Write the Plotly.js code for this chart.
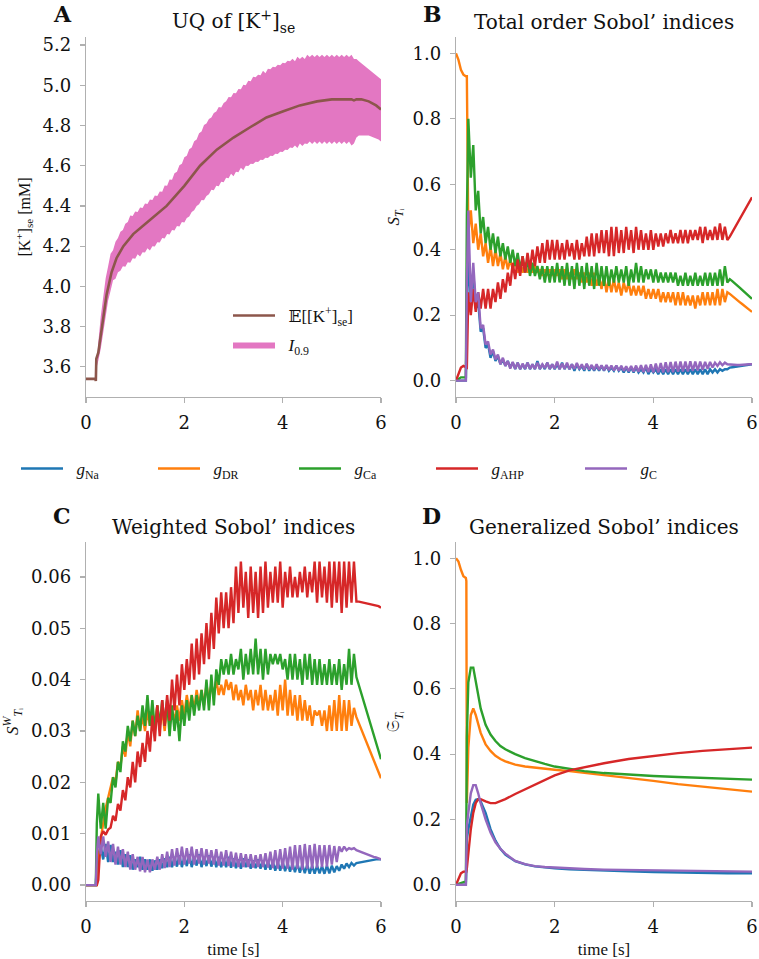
<!DOCTYPE html>
<html><head><meta charset="utf-8">
<script src="https://cdn.plot.ly/plotly-3.0.1.min.js"></script>
<style>html,body{margin:0;padding:0;background:#fff}#chart{width:759px;height:959px}</style>
</head><body><div id="chart"></div>
<script>
// ---------- shared time grid for the noisy panels (s) ----------
const T = [0,0.05,0.1,0.15,0.2,0.22,0.25,0.3,0.35,0.4,0.45,0.5,0.55,0.6,0.65,0.7,0.75,0.8,0.85,0.9,0.95,
1,1.05,1.1,1.15,1.2,1.25,1.3,1.35,1.4,1.45,1.5,1.55,1.6,1.65,1.7,1.75,1.8,1.85,1.9,1.95,
2,2.05,2.1,2.15,2.2,2.25,2.3,2.35,2.4,2.45,2.5,2.55,2.6,2.65,2.7,2.75,2.8,2.85,2.9,2.95,
3,3.05,3.1,3.15,3.2,3.25,3.3,3.35,3.4,3.45,3.5,3.55,3.6,3.65,3.7,3.75,3.8,3.85,3.9,3.95,
4,4.05,4.1,4.15,4.2,4.25,4.3,4.35,4.4,4.45,4.5,4.55,4.6,4.65,4.7,4.75,4.8,4.85,4.9,4.95,
5,5.05,5.1,5.15,5.2,5.25,5.3,5.35,5.4,5.45,5.5,5.55,5.6,5.65,5.7,5.75,5.8,5.85,5.9,5.95,
6];

// ---------- Panel A: [K+]se ----------
const tMean = [0,0.19,0.2,0.21,0.25,0.29,0.35,0.42,0.52,0.62,0.76,0.96,1.3,1.64,2.0,2.32,2.66,3.0,3.33,3.67,4.0,4.35,4.7,5.0,5.4,5.45,5.5,5.6,5.75,5.9,6.0];
const kMean = [3.54,3.54,3.53,3.64,3.67,3.74,3.86,3.96,4.07,4.14,4.20,4.26,4.33,4.40,4.50,4.60,4.68,4.74,4.79,4.84,4.87,4.90,4.92,4.93,4.93,4.925,4.93,4.93,4.92,4.90,4.88];
const kLow = [3.54,3.54,3.54,3.54,3.53,3.60,3.63,3.69,3.77,3.85,3.93,3.978,4.03,4.038,4.07,4.078,4.10,4.098,4.12,4.118,4.14,
4.138,4.16,4.148,4.17,4.168,4.19,4.178,4.20,4.198,4.22,4.218,4.24,4.238,4.26,4.258,4.28,4.278,4.30,4.298,4.32,
4.318,4.34,4.348,4.37,4.378,4.40,4.408,4.43,4.428,4.45,4.458,4.48,4.478,4.50,4.498,4.52,4.518,4.54,4.538,4.56,
4.548,4.57,4.568,4.59,4.578,4.60,4.598,4.61,4.608,4.62,4.618,4.63,4.628,4.64,4.638,4.65,4.648,4.66,4.658,4.67,
4.668,4.68,4.678,4.69,4.688,4.70,4.688,4.71,4.698,4.71,4.708,4.72,4.708,4.72,4.708,4.72,4.708,4.72,4.708,4.72,
4.708,4.72,4.708,4.72,4.708,4.72,4.708,4.72,4.70,4.71,4.74,4.75,4.75,4.75,4.75,4.75,4.745,4.74,4.735,4.73,
4.72];
const kHigh = [3.54,3.54,3.54,3.54,3.53,3.62,3.72,3.85,3.96,4.04,4.10,4.162,4.18,4.222,4.24,4.272,4.28,4.312,4.32,4.352,4.35,
4.372,4.37,4.392,4.39,4.412,4.41,4.432,4.43,4.452,4.45,4.472,4.47,4.502,4.50,4.532,4.53,4.562,4.57,4.602,4.61,
4.642,4.65,4.682,4.69,4.722,4.73,4.762,4.77,4.802,4.81,4.832,4.84,4.862,4.87,4.892,4.89,4.912,4.92,4.942,4.94,
4.962,4.96,4.982,4.98,5.002,5.00,5.022,5.02,5.042,5.04,5.052,5.05,5.072,5.06,5.082,5.08,5.092,5.09,5.102,5.10,
5.112,5.11,5.122,5.12,5.132,5.12,5.142,5.13,5.142,5.13,5.152,5.14,5.152,5.14,5.152,5.14,5.152,5.14,5.152,5.14,
5.152,5.14,5.152,5.14,5.152,5.14,5.152,5.14,5.152,5.13,5.13,5.12,5.11,5.10,5.09,5.08,5.07,5.06,5.05,5.04,
5.03];

// ---------- Panel B: total order Sobol' indices ----------
const naB = [0,0,0,0,0,0.2,0.38,0.25,0.33,0.22,0.24,0.15,0.16,0.10,0.11,0.07,0.09,0.06,0.075,0.05,0.065,
0.045,0.06,0.04,0.055,0.035,0.055,0.035,0.05,0.035,0.055,0.035,0.05,0.035,0.06,0.035,0.05,0.035,0.055,0.035,0.05,
0.035,0.05,0.035,0.055,0.035,0.05,0.035,0.05,0.03,0.05,0.035,0.045,0.03,0.05,0.03,0.045,0.03,0.045,0.03,0.045,
0.03,0.045,0.03,0.04,0.03,0.045,0.03,0.04,0.025,0.04,0.025,0.04,0.025,0.04,0.025,0.035,0.025,0.04,0.02,0.035,
0.025,0.035,0.02,0.035,0.02,0.035,0.02,0.035,0.02,0.035,0.02,0.035,0.02,0.035,0.02,0.035,0.02,0.035,0.02,0.035,
0.02,0.035,0.02,0.035,0.025,0.035,0.025,0.035,0.03,0.035,0.035,0.04,0.041,0.042,0.043,0.044,0.045,0.046,0.047,0.048,
0.05];
const drB = [1.00,0.98,0.95,0.935,0.93,0.93,0.45,0.52,0.42,0.48,0.40,0.45,0.38,0.42,0.36,0.41,0.35,0.40,0.35,0.39,0.34,
0.38,0.34,0.37,0.34,0.37,0.33,0.36,0.33,0.36,0.33,0.35,0.33,0.35,0.33,0.34,0.32,0.34,0.32,0.34,0.32,
0.34,0.32,0.34,0.31,0.34,0.31,0.33,0.31,0.34,0.31,0.33,0.30,0.33,0.30,0.33,0.29,0.33,0.29,0.32,0.28,
0.32,0.27,0.31,0.27,0.31,0.27,0.30,0.26,0.30,0.27,0.30,0.26,0.29,0.26,0.29,0.26,0.29,0.25,0.28,0.25,
0.28,0.25,0.28,0.24,0.27,0.24,0.27,0.24,0.27,0.23,0.27,0.23,0.27,0.23,0.26,0.23,0.26,0.22,0.26,0.23,
0.27,0.23,0.27,0.23,0.27,0.23,0.28,0.23,0.28,0.24,0.27,0.265,0.258,0.252,0.246,0.24,0.234,0.228,0.222,0.216,
0.21];
const caB = [0,0.005,0.01,0.01,0.01,0.5,0.80,0.62,0.72,0.52,0.58,0.45,0.50,0.42,0.47,0.40,0.45,0.39,0.44,0.38,0.42,
0.37,0.41,0.36,0.40,0.35,0.39,0.34,0.38,0.33,0.37,0.32,0.36,0.32,0.35,0.31,0.35,0.30,0.35,0.30,0.35,
0.30,0.36,0.30,0.35,0.29,0.36,0.29,0.35,0.28,0.36,0.29,0.35,0.28,0.36,0.29,0.35,0.28,0.36,0.29,0.35,
0.29,0.35,0.29,0.34,0.30,0.35,0.30,0.34,0.30,0.35,0.29,0.34,0.30,0.36,0.30,0.35,0.30,0.34,0.31,0.34,
0.30,0.34,0.30,0.33,0.30,0.33,0.30,0.33,0.30,0.33,0.29,0.32,0.29,0.33,0.29,0.32,0.29,0.33,0.29,0.32,
0.29,0.33,0.29,0.33,0.29,0.33,0.29,0.34,0.29,0.35,0.30,0.31,0.304,0.298,0.291,0.284,0.277,0.27,0.264,0.257,
0.25];
const ahpB = [0,0.02,0.04,0.045,0.04,0.04,0.27,0.20,0.28,0.21,0.27,0.22,0.28,0.22,0.28,0.22,0.28,0.24,0.30,0.25,0.31,
0.27,0.33,0.29,0.36,0.31,0.37,0.32,0.38,0.33,0.39,0.34,0.40,0.35,0.41,0.36,0.42,0.36,0.43,0.37,0.43,
0.37,0.43,0.37,0.42,0.37,0.43,0.38,0.42,0.37,0.43,0.37,0.42,0.38,0.44,0.38,0.45,0.38,0.45,0.39,0.46,
0.39,0.46,0.38,0.47,0.38,0.47,0.39,0.46,0.39,0.47,0.40,0.46,0.39,0.47,0.40,0.46,0.40,0.45,0.40,0.46,
0.40,0.45,0.41,0.45,0.41,0.45,0.42,0.46,0.42,0.45,0.42,0.46,0.42,0.46,0.42,0.46,0.43,0.46,0.43,0.47,
0.42,0.47,0.43,0.46,0.43,0.47,0.43,0.48,0.43,0.47,0.43,0.44,0.453,0.467,0.48,0.493,0.507,0.52,0.533,0.547,
0.56];
const cB = [0,0,0,0,0,0.30,0.52,0.24,0.36,0.24,0.27,0.16,0.17,0.11,0.12,0.08,0.095,0.065,0.08,0.05,0.07,
0.045,0.06,0.037,0.057,0.036,0.055,0.035,0.052,0.036,0.055,0.036,0.05,0.036,0.055,0.036,0.05,0.038,0.055,0.036,0.05,
0.037,0.058,0.035,0.052,0.036,0.055,0.035,0.05,0.036,0.054,0.035,0.05,0.034,0.052,0.034,0.048,0.033,0.05,0.033,0.047,
0.032,0.048,0.032,0.046,0.031,0.046,0.03,0.045,0.03,0.044,0.029,0.045,0.028,0.046,0.027,0.047,0.026,0.048,0.026,0.05,
0.025,0.052,0.025,0.054,0.025,0.056,0.026,0.057,0.026,0.058,0.027,0.058,0.028,0.058,0.028,0.059,0.03,0.058,0.031,0.058,
0.033,0.057,0.036,0.057,0.04,0.055,0.045,0.056,0.047,0.055,0.05,0.049,0.048,0.048,0.048,0.048,0.049,0.049,0.049,0.05,
0.05];

// ---------- Panel C: weighted Sobol' indices ----------
const naC = [0,0,0,0,0,0.004,0.006,0.0075,0.005,0.008,0.0045,0.0078,0.0045,0.0065,0.004,0.0068,0.0035,0.006,0.0035,0.0058,0.003,
0.005,0.0035,0.0055,0.003,0.005,0.003,0.005,0.0028,0.0048,0.003,0.005,0.0033,0.0052,0.0035,0.0055,0.0035,0.0055,0.0036,0.0058,0.0035,
0.0055,0.0037,0.006,0.0035,0.0055,0.0038,0.006,0.0035,0.0055,0.0037,0.0058,0.0036,0.0055,0.0035,0.0055,0.0035,0.0052,0.0035,0.0055,0.0034,
0.0052,0.0033,0.005,0.0032,0.0052,0.0035,0.005,0.0032,0.0048,0.0033,0.005,0.0032,0.0048,0.003,0.0047,0.003,0.0046,0.0028,0.0045,0.0028,
0.0045,0.0027,0.0043,0.0026,0.0042,0.0025,0.0042,0.0024,0.004,0.0023,0.004,0.0022,0.0038,0.0022,0.0038,0.0023,0.0037,0.0022,0.0038,0.0023,
0.0038,0.0025,0.0037,0.0028,0.004,0.0032,0.0042,0.0035,0.0043,0.0038,0.0043,0.0044,0.0045,0.0046,0.0047,0.0048,0.0048,0.0049,0.005,0.005,
0.005];
const drC = [0,0,0,0,0,0,0.004,0.009,0.012,0.015,0.017,0.019,0.021,0.020,0.024,0.023,0.027,0.025,0.030,0.027,0.032,
0.029,0.034,0.030,0.033,0.030,0.034,0.031,0.034,0.031,0.035,0.031,0.034,0.030,0.035,0.031,0.034,0.032,0.035,0.032,0.036,
0.033,0.037,0.034,0.037,0.034,0.038,0.035,0.038,0.035,0.039,0.036,0.039,0.037,0.040,0.037,0.039,0.037,0.040,0.038,0.0395,
0.036,0.039,0.036,0.038,0.035,0.039,0.036,0.038,0.034,0.038,0.035,0.039,0.034,0.038,0.034,0.037,0.034,0.038,0.033,0.039,
0.034,0.040,0.033,0.038,0.033,0.037,0.032,0.037,0.032,0.036,0.032,0.035,0.031,0.034,0.033,0.034,0.031,0.034,0.030,0.035,
0.030,0.036,0.030,0.037,0.030,0.036,0.030,0.036,0.031,0.0345,0.0327,0.0315,0.0303,0.0291,0.0279,0.0267,0.0255,0.0243,0.0231,0.0219,
0.0208];
const caC = [0,0,0,0,0,0.012,0.0178,0.011,0.016,0.011,0.017,0.016,0.021,0.019,0.024,0.022,0.028,0.026,0.031,0.028,0.032,
0.029,0.033,0.030,0.035,0.031,0.037,0.031,0.036,0.030,0.035,0.031,0.036,0.031,0.036,0.029,0.035,0.030,0.034,0.028,0.035,
0.031,0.036,0.032,0.037,0.033,0.037,0.034,0.038,0.034,0.040,0.034,0.041,0.035,0.042,0.039,0.044,0.041,0.044,0.041,0.045,
0.041,0.044,0.042,0.046,0.040,0.045,0.041,0.046,0.041,0.048,0.041,0.046,0.040,0.046,0.041,0.045,0.043,0.045,0.043,0.045,
0.042,0.044,0.040,0.045,0.040,0.045,0.040,0.044,0.039,0.045,0.040,0.045,0.039,0.044,0.039,0.044,0.039,0.043,0.039,0.044,
0.039,0.043,0.039,0.044,0.038,0.043,0.039,0.046,0.039,0.045,0.0405,0.0389,0.0373,0.0357,0.0341,0.0325,0.0309,0.0293,0.0277,0.0261,
0.0245];
const ahpC = [0,0,0,0,0,0,0.001,0.0095,0.0105,0.0098,0.0108,0.0112,0.0135,0.0125,0.0158,0.0145,0.0185,0.0165,0.021,0.019,0.024,
0.020,0.026,0.023,0.0277,0.024,0.030,0.026,0.033,0.028,0.035,0.029,0.036,0.031,0.037,0.032,0.040,0.034,0.041,0.035,0.043,
0.038,0.044,0.039,0.047,0.040,0.048,0.041,0.049,0.043,0.051,0.044,0.053,0.046,0.056,0.049,0.057,0.050,0.057,0.050,0.058,
0.051,0.062,0.053,0.063,0.054,0.061,0.052,0.062,0.053,0.061,0.052,0.062,0.053,0.063,0.054,0.061,0.055,0.062,0.055,0.063,
0.054,0.061,0.056,0.062,0.056,0.060,0.056,0.061,0.057,0.062,0.056,0.061,0.057,0.063,0.055,0.063,0.056,0.062,0.055,0.063,
0.054,0.063,0.055,0.063,0.053,0.063,0.054,0.063,0.055,0.063,0.0552,0.0552,0.0551,0.055,0.0549,0.0548,0.0547,0.0546,0.0545,0.0543,
0.054];
const cC = [0,0,0,0,0,0.006,0.0095,0.006,0.0095,0.0055,0.0085,0.0045,0.008,0.004,0.0075,0.004,0.007,0.0035,0.0065,0.003,0.006,
0.003,0.0055,0.0027,0.0055,0.0025,0.005,0.0025,0.005,0.003,0.0055,0.003,0.006,0.0033,0.0065,0.0035,0.007,0.0038,0.0072,0.004,0.0075,
0.004,0.0072,0.0042,0.0075,0.004,0.007,0.0042,0.0072,0.004,0.007,0.0042,0.0068,0.004,0.007,0.0038,0.0065,0.0038,0.0068,0.0037,0.0065,
0.0036,0.0063,0.0035,0.0062,0.0035,0.006,0.0035,0.006,0.0034,0.0058,0.0035,0.006,0.0035,0.0062,0.0034,0.0065,0.0033,0.0068,0.0032,0.007,
0.0032,0.0072,0.0032,0.0075,0.003,0.0078,0.0032,0.0078,0.003,0.008,0.0032,0.0078,0.0032,0.008,0.0034,0.0078,0.0035,0.0078,0.0036,0.0078,
0.004,0.0076,0.0045,0.0075,0.0065,0.0075,0.0068,0.0072,0.007,0.0072,0.0068,0.0066,0.0064,0.0062,0.006,0.0058,0.0056,0.0055,0.0054,0.0052,
0.005];

// ---------- Panel D: generalized Sobol' indices ----------
const tD = [0,0.05,0.1,0.15,0.2,0.21,0.22,0.25,0.3,0.35,0.4,0.45,0.5,0.6,0.7,0.8,0.9,1.0,1.2,1.4,1.6,1.8,2.0,2.3,2.6,3.0,3.5,4.0,4.5,5.0,5.5,6.0];
const naD = [0,0,0,0,0,0.05,0.14,0.17,0.21,0.245,0.26,0.262,0.255,0.22,0.17,0.135,0.11,0.092,0.072,0.062,0.056,0.052,0.05,0.047,0.045,0.043,0.041,0.039,0.037,0.036,0.035,0.035];
const drD = [1.0,0.99,0.965,0.945,0.94,0.93,0.25,0.42,0.52,0.54,0.52,0.49,0.465,0.43,0.41,0.395,0.385,0.378,0.368,0.362,0.358,0.355,0.352,0.348,0.343,0.335,0.327,0.318,0.308,0.300,0.292,0.285];
const caD = [0,0.003,0.006,0.008,0.01,0.2,0.45,0.62,0.665,0.665,0.625,0.58,0.54,0.49,0.46,0.44,0.425,0.415,0.40,0.388,0.378,0.37,0.362,0.354,0.348,0.342,0.337,0.333,0.33,0.327,0.325,0.322];
const ahpD = [0,0.015,0.035,0.04,0.04,0.04,0.05,0.1,0.17,0.22,0.25,0.262,0.262,0.255,0.25,0.25,0.255,0.262,0.278,0.292,0.306,0.32,0.335,0.35,0.36,0.372,0.385,0.395,0.403,0.41,0.415,0.42];
const cD = [0,0,0,0,0,0.1,0.18,0.22,0.28,0.305,0.305,0.28,0.25,0.2,0.16,0.13,0.11,0.095,0.073,0.063,0.057,0.054,0.052,0.05,0.048,0.046,0.045,0.044,0.043,0.042,0.041,0.04];

// ---------- labels ----------
const paramLabels = ['<i>g</i><sub>Na</sub>','<i>g</i><sub>DR</sub>','<i>g</i><sub>Ca</sub>','<i>g</i><sub>AHP</sub>','<i>g</i><sub>C</sub>'];
const paramColors = ['#1f77b4','#ff7f0e','#2ca02c','#d62728','#9467bd'];
const panelTitles = ['UQ of [K<sup>+</sup>]<sub>se</sub>','Total order Sobol’ indices','Weighted Sobol’ indices','Generalized Sobol’ indices'];
const panelLetters = ['A','B','C','D'];
const meanLabel = '𝔼[[K<sup>+</sup>]<sub>se</sub>]';
const bandLabel = '<i>I</i><sub>0.9</sub>';
const xTicks = [0,2,4,6];

// ---------- build ----------
const W = 759, H = 959;
const px = v => v / W, py = v => 1 - v / H;
const serif = '"DejaVu Serif", "Liberation Serif", serif';
const mathFont = '"Liberation Serif", "DejaVu Serif", serif';
const LW = 2.4;
const NB = '\u00a0\u00a0';

const traces = [];
traces.push({x:T, y:kLow, xaxis:'x', yaxis:'y', mode:'lines', line:{width:0, color:'#e377c2'}, showlegend:false, hoverinfo:'skip'});
traces.push({x:T, y:kHigh, xaxis:'x', yaxis:'y', mode:'lines', line:{width:0, color:'#e377c2'}, fill:'tonexty', fillcolor:'#e377c2', name:NB+bandLabel, legend:'legend3', showlegend:true});
traces.push({x:tMean, y:kMean, xaxis:'x', yaxis:'y', mode:'lines', line:{width:2.6, color:'#8c564b'}, name:NB+meanLabel, legend:'legend2', showlegend:true});

const seriesB = [naB, drB, caB, ahpB, cB];
const seriesC = [naC, drC, caC, ahpC, cC];
const seriesD = [naD, drD, caD, ahpD, cD];
const legNames = ['legend4','legend5','legend6','legend7','legend8'];
for (let i = 0; i < 5; i++) {
  traces.push({x:T, y:seriesB[i], xaxis:'x2', yaxis:'y2', mode:'lines', line:{width:LW, color:paramColors[i]}, name:NB+paramLabels[i], legend:legNames[i], showlegend:true});
}
for (let i = 0; i < 5; i++) {
  traces.push({x:T, y:seriesC[i], xaxis:'x3', yaxis:'y3', mode:'lines', line:{width:LW, color:paramColors[i]}, name:paramLabels[i], showlegend:false});
}
for (let i = 0; i < 5; i++) {
  traces.push({x:tD, y:seriesD[i], xaxis:'x4', yaxis:'y4', mode:'lines', line:{width:LW, color:paramColors[i]}, name:paramLabels[i], showlegend:false});
}

const spine = '#b0b0b0';
function ax(extra) {
  return Object.assign({
    showline:true, linecolor:spine, linewidth:1.2, ticks:'outside', ticklen:5, tickwidth:1.2, tickcolor:spine,
    showgrid:false, zeroline:false, fixedrange:true, ticklabelstandoff:5,
    tickfont:{family:serif, size:18, color:'#111'}
  }, extra);
}
const xdomL = [px(86), px(381)], xdomR = [px(456), px(752)];
const ydomT = [py(397), py(37)], ydomB = [py(901), py(542)];
const xTitle = {text:'time [s]', font:{family:mathFont, size:17, color:'#111'}, standoff:12};
const XS = 4;

const layout = {
  width:W, height:H, margin:{l:0, r:0, t:0, b:0}, paper_bgcolor:'#fff', plot_bgcolor:'#fff',
  xaxis: ax({domain:xdomL, anchor:'y', range:[0,6], tickvals:xTicks, ticklabelstandoff:XS}),
  yaxis: ax({domain:ydomT, anchor:'x', range:[3.45,5.24], dtick:0.2, tickformat:'.1f',
    title:{text:'[K<sup>+</sup>]<sub>se</sub> [mM]', font:{family:mathFont, size:16, color:'#111'}, standoff:8}}),
  xaxis2: ax({domain:xdomR, anchor:'y2', range:[0,6], tickvals:xTicks, ticklabelstandoff:XS}),
  yaxis2: ax({domain:ydomT, anchor:'x2', range:[-0.05,1.05], dtick:0.2, tickformat:'.1f',
    title:{text:'<i>S</i><sub><i>T</i>ᵢ</sub>', font:{family:mathFont, size:17, color:'#111'}, standoff:8}}),
  xaxis3: ax({domain:xdomL, anchor:'y3', range:[0,6], tickvals:xTicks, ticklabelstandoff:XS, title:xTitle}),
  yaxis3: ax({domain:ydomB, anchor:'x3', range:[-0.0031,0.0668], dtick:0.01, tickformat:'.2f',
    title:{text:'<i>S</i><sup><i>W</i></sup><sub><i>T</i>ᵢ</sub>', font:{family:mathFont, size:17, color:'#111'}, standoff:8}}),
  xaxis4: ax({domain:xdomR, anchor:'y4', range:[0,6], tickvals:xTicks, ticklabelstandoff:XS, title:xTitle}),
  yaxis4: ax({domain:ydomB, anchor:'x4', range:[-0.05,1.05], dtick:0.2, tickformat:'.1f',
    title:{text:'𝔖<sub><i>T</i>ᵢ</sub>', font:{family:mathFont, size:17, color:'#111'}, standoff:8}}),
  annotations: [],
  showlegend:true
};

// legend entries
const legFont = {family:mathFont, size:17, color:'#111'};
layout.legend2 = {x:px(228), y:py(316), xanchor:'left', yanchor:'middle', bgcolor:'rgba(0,0,0,0)', font:legFont, itemwidth:42};
layout.legend3 = {x:px(228), y:py(345), xanchor:'left', yanchor:'middle', bgcolor:'rgba(0,0,0,0)', font:legFont, itemwidth:42};
const legX = [16, 153, 294, 431, 580];
for (let i = 0; i < 5; i++) {
  layout[legNames[i]] = {x:px(legX[i]), y:py(469), xanchor:'left', yanchor:'middle', bgcolor:'rgba(0,0,0,0)', font:legFont, itemwidth:42};
}

// panel titles and letters
const titlePos = [[233.5,22],[604,22],[233.5,527],[604,527]];
const letterPos = [[62,14],[432,14],[62,516],[431,516]];
for (let i = 0; i < 4; i++) {
  layout.annotations.push({text:panelTitles[i], xref:'paper', yref:'paper', x:px(titlePos[i][0]), y:py(titlePos[i][1]),
    xanchor:'center', yanchor:'middle', showarrow:false, font:{family:serif, size:20, color:'#111'}});
  layout.annotations.push({text:'<b>'+panelLetters[i]+'</b>', xref:'paper', yref:'paper', x:px(letterPos[i][0]), y:py(letterPos[i][1]),
    xanchor:'center', yanchor:'middle', showarrow:false, font:{family:serif, size:22, color:'#111'}});
}

Plotly.newPlot('chart', traces, layout, {displayModeBar:false, staticPlot:true});
</script>
</body></html>
